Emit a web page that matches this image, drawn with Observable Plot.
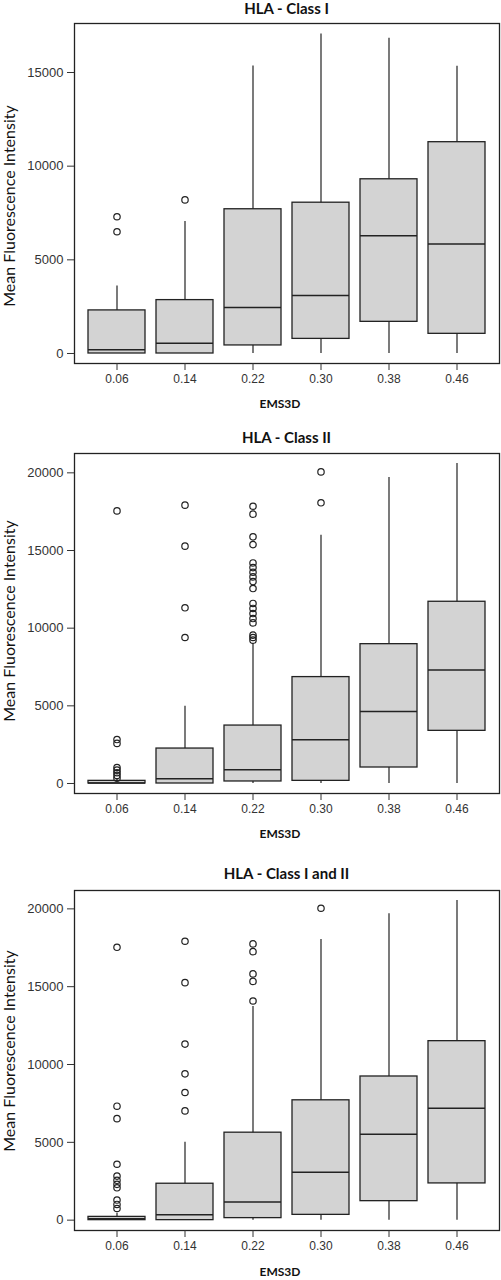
<!DOCTYPE html>
<html>
<head>
<meta charset="utf-8">
<script src="https://cdn.jsdelivr.net/npm/d3@7"></script>
<script src="https://cdn.jsdelivr.net/npm/@observablehq/plot@0.6"></script>
<style>
  body { margin: 0; background: #fff; }
  #wrap { position: relative; width: 501px; height: 1280px; overflow: hidden; background: #fff; }
  .panel { position: absolute; left: 0; width: 501px; }
  .title { position: absolute; left: 74px; width: 425px; text-align: center; font: bold 15px Lato, sans-serif; line-height: 18px; color: #111; white-space: nowrap; }
  .xlab { position: absolute; left: 180px; width: 200px; text-align: center; font: bold 12px Lato, sans-serif; line-height: 14px; color: #111; }
  .ylab { position: absolute; width: 300px; height: 20px; text-align: center; font: 16px Lato, sans-serif; line-height: 20px; color: #111; transform: rotate(-90deg); white-space: nowrap; }
</style>
</head>
<body>
<div id="wrap"></div>
<script>
// ---- data ----
const categories = ["0.06", "0.14", "0.22", "0.30", "0.38", "0.46"];

// HLA - Class I
const c1Low    = [0, 0, 0, 0, 0, 0];
const c1Q1     = [0, 0, 430, 780, 1690, 1050];
const c1Median = [200, 550, 2450, 3100, 6280, 5840];
const c1Q3     = [2300, 2850, 7700, 8050, 9300, 11280];
const c1High   = [3600, 7050, 15350, 17050, 16830, 15340];
const c1Outliers = [[7300, 6500], [8200], [], [], [], []];

// HLA - Class II
const c2Low    = [0, 0, 0, 0, 0, 0];
const c2Q1     = [0, 0, 130, 170, 1030, 3390];
const c2Median = [40, 300, 880, 2810, 4640, 7300];
const c2Q3     = [170, 2250, 3730, 6850, 8970, 11700];
const c2High   = [300, 4980, 9000, 15990, 19700, 20600];
const c2Outliers = [
  [17550, 2830, 2580, 1030, 860, 690, 520, 340],
  [17920, 15280, 11310, 9400],
  [17850, 17340, 15880, 15380, 14200, 13900, 13600, 13300, 13000, 12550, 11590, 11270, 10940, 10620, 10340, 9550, 9400, 9230],
  [20060, 18070],
  [],
  []
];

// HLA - Class I and II
const c3Low    = [0, 0, 0, 0, 0, 0];
const c3Q1     = [0, 0, 130, 340, 1220, 2360];
const c3Median = [90, 340, 1160, 3070, 5520, 7190];
const c3Q3     = [210, 2340, 5620, 7700, 9230, 11500];
const c3High   = [450, 5000, 13730, 18030, 19680, 20540];
const c3Outliers = [
  [17530, 7320, 6520, 3590, 2830, 2560, 2300, 2080, 1290, 1010, 750],
  [17920, 15260, 11310, 9400, 8200, 7020],
  [17750, 17250, 15820, 15340, 14080],
  [20040],
  [],
  []
];

const ticks1 = [0, 5000, 10000, 15000];
const ticks2 = [0, 5000, 10000, 15000, 20000];

const titles = ["HLA - Class I", "HLA - Class II", "HLA - Class I and II"];
const yLabel = "Mean Fluorescence Intensity";
const xLabel = "EMS3D";

// ---- drawing ----
function panel(low, q1, med, q3, high, outs, yDomain, yTicks) {
  const stats = categories.map((c, i) => ({c, lo: low[i], q1: q1[i], med: med[i], q3: q3[i], hi: high[i]}));
  const pts = categories.flatMap((c, i) => outs[i].map(v => ({c, v})));
  return Plot.plot({
    width: 501,
    height: 413,
    marginTop: 23,
    marginBottom: 50,
    marginLeft: 74,
    marginRight: 2,
    style: {fontFamily: "'Liberation Sans', Arial, sans-serif", fontSize: "13px", color: "#333", background: "#fff", overflow: "visible"},
    x: {type: "band", domain: categories, paddingInner: 0.155, paddingOuter: 0.158, label: null},
    y: {domain: yDomain, label: null},
    marks: [
      Plot.ruleX(stats, {x: "c", y1: "lo", y2: "hi", stroke: "#222", strokeWidth: 1.2}),
      Plot.barY(stats, {x: "c", y1: "q1", y2: "q3", fill: "#d3d3d3", stroke: "#222", strokeWidth: 1.3}),
      Plot.tickY(stats, {x: "c", y: "med", stroke: "#222", strokeWidth: 1.5}),
      Plot.dot(pts, {x: "c", y: "v", r: 3.2, stroke: "#222", strokeWidth: 1.2, fill: "none"}),
      Plot.frame({stroke: "#222", strokeWidth: 1.3}),
      Plot.axisY({ticks: yTicks, tickSize: 7, tickPadding: 4, tickFormat: d => String(d), fontSize: 13, label: null}),
      Plot.axisX({tickSize: 7, tickPadding: 4, fontSize: 12, label: null})
    ]
  });
}

const wrap = document.getElementById("wrap");
const panelTops = [0, 430, 867];
const titleTops = [-1, 428, 863.5];
const xlabTops = [396.5, 826.5, 1265];
const ylabCenters = [205.5, 620.5, 1050.5];

const charts = [
  panel(c1Low, c1Q1, c1Median, c1Q3, c1High, c1Outliers, [-534, 17616], ticks1),
  panel(c2Low, c2Q1, c2Median, c2Q3, c2High, c2Outliers, [-644, 21245], ticks2),
  panel(c3Low, c3Q1, c3Median, c3Q3, c3High, c3Outliers, [-665, 21180], ticks2)
];

charts.forEach((svg, i) => {
  const div = document.createElement("div");
  div.className = "panel";
  div.style.top = panelTops[i] + "px";
  div.appendChild(svg);
  wrap.appendChild(div);

  const t = document.createElement("div");
  t.className = "title";
  t.style.top = titleTops[i] + "px";
  t.textContent = titles[i];
  wrap.appendChild(t);

  const xl = document.createElement("div");
  xl.className = "xlab";
  xl.style.top = xlabTops[i] + "px";
  xl.textContent = xLabel;
  wrap.appendChild(xl);

  const yl = document.createElement("div");
  yl.className = "ylab";
  yl.style.left = (9 - 150) + "px";
  yl.style.top = (ylabCenters[i] - 10) + "px";
  yl.textContent = yLabel;
  wrap.appendChild(yl);
});
</script>
</body>
</html>
